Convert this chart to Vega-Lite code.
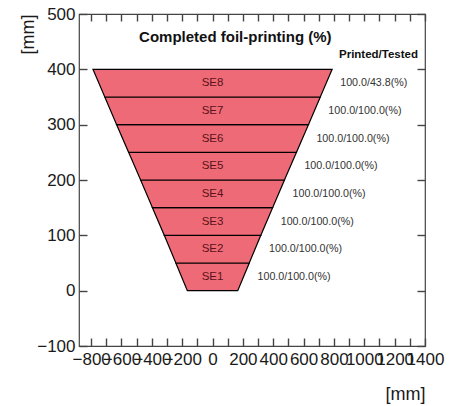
{
  "$schema": "https://vega.github.io/schema/vega-lite/v6.json",
  "width": 346,
  "height": 332,
  "autosize": {"type": "none"},
  "padding": {"left": 79, "top": 14, "right": 30, "bottom": 60},
  "background": "white",
  "config": {
    "font": "Liberation Sans",
    "view": {"stroke": "#444444", "strokeWidth": 1.2},
    "axis": {
      "grid": false,
      "domain": false,
      "labelColor": "#1a1a1a",
      "labelFont": "Liberation Sans",
      "labelFontSize": 17,
      "titleFont": "Liberation Sans",
      "titleFontSize": 18,
      "titleFontWeight": "normal",
      "titleColor": "#1a1a1a",
      "labelOverlap": false,
      "labelFlush": false,
      "format": "d"
    }
  },
  "datasets": {
    "outline": [
      {"module": "SE1", "z": 0, "x_left": -166, "x_right": 166},
      {"module": "SE1", "z": 50, "x_left": -242, "x_right": 242},
      {"module": "SE2", "z": 50, "x_left": -242, "x_right": 242},
      {"module": "SE2", "z": 100, "x_left": -318, "x_right": 318},
      {"module": "SE3", "z": 100, "x_left": -318, "x_right": 318},
      {"module": "SE3", "z": 150, "x_left": -396, "x_right": 396},
      {"module": "SE4", "z": 150, "x_left": -396, "x_right": 396},
      {"module": "SE4", "z": 200, "x_left": -474, "x_right": 474},
      {"module": "SE5", "z": 200, "x_left": -474, "x_right": 474},
      {"module": "SE5", "z": 250, "x_left": -553, "x_right": 553},
      {"module": "SE6", "z": 250, "x_left": -553, "x_right": 553},
      {"module": "SE6", "z": 300, "x_left": -632, "x_right": 632},
      {"module": "SE7", "z": 300, "x_left": -632, "x_right": 632},
      {"module": "SE7", "z": 350, "x_left": -710, "x_right": 710},
      {"module": "SE8", "z": 350, "x_left": -710, "x_right": 710},
      {"module": "SE8", "z": 400, "x_left": -788, "x_right": 788}
    ],
    "modules": [
      {"module": "SE1", "z_center": 25, "r_mid": 204, "printed": 100.0, "tested": 100.0},
      {"module": "SE2", "z_center": 75, "r_mid": 280, "printed": 100.0, "tested": 100.0},
      {"module": "SE3", "z_center": 125, "r_mid": 357, "printed": 100.0, "tested": 100.0},
      {"module": "SE4", "z_center": 175, "r_mid": 435, "printed": 100.0, "tested": 100.0},
      {"module": "SE5", "z_center": 225, "r_mid": 513, "printed": 100.0, "tested": 100.0},
      {"module": "SE6", "z_center": 275, "r_mid": 592, "printed": 100.0, "tested": 100.0},
      {"module": "SE7", "z_center": 325, "r_mid": 671, "printed": 100.0, "tested": 100.0},
      {"module": "SE8", "z_center": 375, "r_mid": 749, "printed": 100.0, "tested": 43.8}
    ]
  },
  "layer": [
    {
      "data": {"name": "outline"},
      "mark": {"type": "area", "orient": "horizontal", "fill": "#EE6A76", "fillOpacity": 1, "stroke": "#000000", "strokeWidth": 1.2},
      "encoding": {
        "y": {
          "field": "z", "type": "quantitative",
          "scale": {"domain": [-100, 500], "nice": false, "zero": false},
          "axis": {
            "orient": "left",
            "values": [-100, 0, 100, 200, 300, 400, 500],
            "tickColor": "#444444", "tickWidth": 1.4, "tickSize": -8, "labelPadding": 12,
            "title": "[mm]", "titleAngle": -90, "titleX": -46, "titleY": 0,
            "titleAlign": "right", "titleBaseline": "alphabetic"
          }
        },
        "x": {
          "field": "x_left", "type": "quantitative",
          "scale": {"domain": [-880, 1400], "nice": false, "zero": false},
          "axis": {
            "orient": "bottom",
            "values": [-800, -700, -600, -500, -400, -300, -200, -100, 0, 100, 200, 300, 400, 500, 600, 700, 800, 900, 1000, 1100, 1200, 1300, 1400],
            "labelExpr": "datum.value % 200 === 0 ? datum.label : ''",
            "tickColor": "#444444", "tickWidth": 1.4, "tickSize": -8, "labelPadding": 13,
            "title": "[mm]", "titleX": 346, "titleY": 53,
            "titleAlign": "right", "titleBaseline": "alphabetic"
          }
        },
        "x2": {"field": "x_right"},
        "detail": {"field": "module"}
      }
    },
    {
      "data": {"name": "modules"},
      "mark": {"type": "text", "align": "center", "baseline": "middle", "fontSize": 11.5, "color": "#5b1219"},
      "encoding": {
        "x": {
          "datum": 0, "type": "quantitative",
          "scale": {"domain": [-880, 1400], "nice": false, "zero": false},
          "axis": null
        },
        "y": {
          "field": "z_center", "type": "quantitative",
          "scale": {"domain": [-100, 500], "nice": false, "zero": false},
          "axis": null
        },
        "text": {"field": "module"}
      }
    },
    {
      "data": {"name": "modules"},
      "transform": [
        {"calculate": "format(datum.printed, '.1f') + '/' + format(datum.tested, '.1f') + '(%)'", "as": "status"}
      ],
      "mark": {"type": "text", "align": "left", "baseline": "middle", "dx": 14, "fontSize": 10.7, "color": "#333333"},
      "encoding": {
        "x": {
          "field": "r_mid", "type": "quantitative",
          "scale": {"domain": [-880, 1400], "nice": false, "zero": false},
          "axis": {
            "orient": "top",
            "values": [-800, -700, -600, -500, -400, -300, -200, -100, 0, 100, 200, 300, 400, 500, 600, 700, 800, 900, 1000, 1100, 1200, 1300, 1400],
            "tickColor": "#444444", "tickWidth": 1.4, "tickSize": -7, "labels": false, "title": null
          }
        },
        "y": {
          "field": "z_center", "type": "quantitative",
          "scale": {"domain": [-100, 500], "nice": false, "zero": false},
          "axis": {
            "orient": "right",
            "values": [-100, 0, 100, 200, 300, 400, 500],
            "tickColor": "#444444", "tickWidth": 1.4, "tickSize": -8, "labels": false, "title": null
          }
        },
        "text": {"field": "status"}
      }
    },
    {
      "data": {"values": [{"caption": "Completed foil-printing (%)"}]},
      "mark": {"type": "text", "align": "center", "baseline": "middle", "fontSize": 15, "fontWeight": "bold", "color": "#111111"},
      "encoding": {
        "x": {
          "datum": 150, "type": "quantitative",
          "scale": {"domain": [-880, 1400], "nice": false, "zero": false},
          "axis": null
        },
        "y": {
          "datum": 458, "type": "quantitative",
          "scale": {"domain": [-100, 500], "nice": false, "zero": false},
          "axis": null
        },
        "text": {"field": "caption"}
      }
    },
    {
      "data": {"values": [{"caption": "Printed/Tested"}]},
      "mark": {"type": "text", "align": "right", "baseline": "middle", "fontSize": 11.5, "fontWeight": "bold", "color": "#111111"},
      "encoding": {
        "x": {
          "datum": 1354, "type": "quantitative",
          "scale": {"domain": [-880, 1400], "nice": false, "zero": false},
          "axis": null
        },
        "y": {
          "datum": 426, "type": "quantitative",
          "scale": {"domain": [-100, 500], "nice": false, "zero": false},
          "axis": null
        },
        "text": {"field": "caption"}
      }
    }
  ],
  "resolve": {"axis": {"x": "independent", "y": "independent"}}
}
